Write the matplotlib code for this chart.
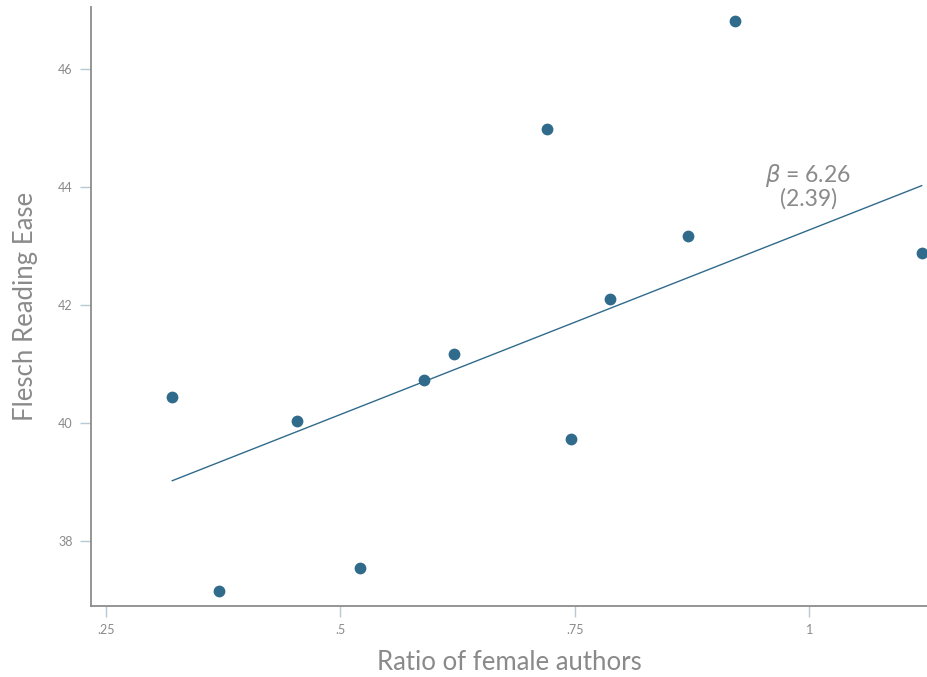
import matplotlib
matplotlib.use("Agg")
import matplotlib.pyplot as plt

# ----------------------------
# Daten
# ----------------------------
ratio_female = [0.321, 0.371, 0.454, 0.521, 0.589, 0.621,
                0.720, 0.746, 0.788, 0.871, 0.921, 1.120]
flesch = [40.44, 37.15, 40.03, 37.54, 40.73, 41.17,
          44.98, 39.73, 42.10, 43.17, 46.81, 42.88]

beta = 6.26
beta_se = 2.39
intercept = 37.01

xticks = [0.25, 0.5, 0.75, 1.0]
xtick_labels = [".25", ".5", ".75", "1"]
yticks = [38, 40, 42, 44, 46]

DOT = "#306b8c"
GREY = "#8a8a8a"
TICK = "#b7c9d3"

plt.rcParams["font.family"] = ["Lato", "DejaVu Sans"]

W, H = 928, 677
fig = plt.figure(figsize=(W / 100, H / 100), dpi=100)
# Achsenbereich in Pixeln: links 90.7, unten 605.7, oben 7, rechts bis Rand
ax = fig.add_axes([90.7 / W, (H - 605.7) / H, 1 - 90.7 / W, (605.7 - 7) / H])

# Regressionsgerade
x0, x1 = min(ratio_female), max(ratio_female)
ax.plot([x0, x1], [intercept + beta * x0, intercept + beta * x1],
        color=DOT, lw=1, zorder=2)

# Punkte
ax.scatter(ratio_female, flesch, s=72, color=DOT, zorder=3, linewidths=0)

# Koeffizient mit Standardfehler
ax.text(0.999, 44.20, r"$\beta$ = %.2f" % beta, ha="center", va="center",
        fontsize=16.5, color=GREY)
ax.text(0.999, 43.80, "(%.2f)" % beta_se, ha="center", va="center",
        fontsize=16.5, color=GREY)

ax.set_xlim(0.234, 1.1267)
ax.set_ylim(36.90, 47.05)
ax.set_xticks(xticks)
ax.set_xticklabels(xtick_labels)
ax.set_yticks(yticks)

for s in ["top", "right"]:
    ax.spines[s].set_visible(False)
for s in ["left", "bottom"]:
    ax.spines[s].set_color("#8c8c8c")
    ax.spines[s].set_linewidth(1.3)

ax.tick_params(axis="both", colors=TICK, labelcolor=GREY, labelsize=9,
               length=8, width=1, pad=5)

ax.set_xlabel("Ratio of female authors", fontsize=18.5, color=GREY,
              labelpad=10)
ax.set_ylabel("Flesch Reading Ease", fontsize=18.5, color=GREY,
              labelpad=14)

fig.savefig("out.png", dpi=100)
